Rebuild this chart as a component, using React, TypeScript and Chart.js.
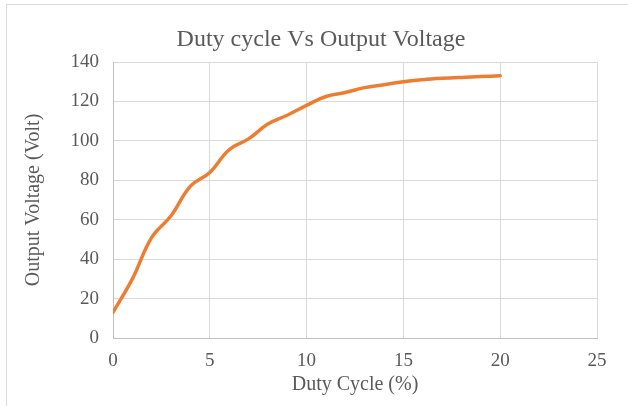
import React, { useEffect, useRef } from "react";
import { Chart, registerables } from "chart.js";

Chart.register(...registerables);

const dutyCycle = [0, 1, 2, 3, 4, 5, 6, 7, 8, 9, 10, 11, 12, 13, 14, 15, 16, 17, 18, 19, 20];
const outputVoltage = [13, 30, 51, 62, 77, 84, 95.5, 101, 108.5, 113, 118, 122.5, 124.5, 127, 128.5, 130, 131, 131.7, 132.2, 132.6, 133];
const xTicks = [0, 5, 10, 15, 20, 25];
const yTicks = [0, 20, 40, 60, 80, 100, 120, 140];

const titleText = "Duty cycle Vs Output Voltage";
const xTitle = "Duty Cycle (%)";
const yTitle = "Output Voltage (Volt)";

const font = "'Liberation Serif', 'Times New Roman', serif";

const titlePlugin = {
  id: "customTitle",
  afterDraw(chart: any) {
    const ctx = chart.ctx;
    ctx.save();
    ctx.fillStyle = "#595959";
    ctx.font = `24px ${font}`;
    ctx.textAlign = "center";
    ctx.textBaseline = "middle";
    ctx.fillText(titleText, 321, 40);
    ctx.restore();
  },
};

export default function App() {
  const ref = useRef<HTMLCanvasElement | null>(null);

  useEffect(() => {
    document.body.style.margin = "0";
    const canvas = ref.current;
    if (!canvas) return;
    const chart = new Chart(canvas, {
      type: "scatter",
      data: {
        datasets: [
          {
            data: dutyCycle.map((x, i) => ({ x, y: outputVoltage[i] })),
            showLine: true,
            borderColor: "#ED7D31",
            backgroundColor: "#ED7D31",
            borderWidth: 3.5,
            pointRadius: 0,
            tension: 0.4,
            borderCapStyle: "round",
          },
        ],
      },
      options: {
        responsive: false,
        animation: false,
        devicePixelRatio: 1,
        layout: { padding: { left: 22, right: 31, top: 62, bottom: 0 } },
        plugins: {
          legend: { display: false },
          tooltip: { enabled: false },
          title: { display: false },
        },
        scales: {
          x: {
            type: "linear",
            min: 0,
            max: 25,
            afterBuildTicks: (s: any) => {
              s.ticks = xTicks.map((v) => ({ value: v }));
            },
            afterFit: (s: any) => {
              s.height = 68;
            },
            grid: { color: "#D9D9D9", lineWidth: 1, drawTicks: false },
            border: { color: "#BFBFBF", width: 1 },
            ticks: {
              color: "#595959",
              padding: 12,
              font: { family: font, size: 19 },
            },
            title: {
              display: true,
              text: xTitle,
              color: "#595959",
              font: { family: font, size: 20 },
              padding: { top: 0, bottom: 9 },
            },
          },
          y: {
            type: "linear",
            min: 0,
            max: 140,
            afterBuildTicks: (s: any) => {
              s.ticks = yTicks.map((v) => ({ value: v }));
            },
            afterFit: (s: any) => {
              s.width = 91;
            },
            grid: { color: "#D9D9D9", lineWidth: 1, drawTicks: false },
            border: { color: "#BFBFBF", width: 1 },
            ticks: {
              color: "#595959",
              padding: 14,
              font: { family: font, size: 19 },
            },
            title: {
              display: true,
              text: yTitle,
              color: "#595959",
              font: { family: font, size: 20 },
              padding: { top: 0, bottom: 0 },
            },
          },
        },
      },
      plugins: [titlePlugin],
    });
    return () => chart.destroy();
  }, []);

  return (
    <div style={{ position: "relative", width: 628, height: 406, background: "#fff", overflow: "hidden" }}>
      <div
        style={{
          position: "absolute",
          left: 6,
          top: 4,
          width: 700,
          height: 500,
          borderLeft: "1px solid #D9D9D9",
          borderTop: "1px solid #D9D9D9",
        }}
      />
      <canvas ref={ref} width={628} height={406} style={{ position: "absolute", left: 0, top: 0 }} />
    </div>
  );
}
